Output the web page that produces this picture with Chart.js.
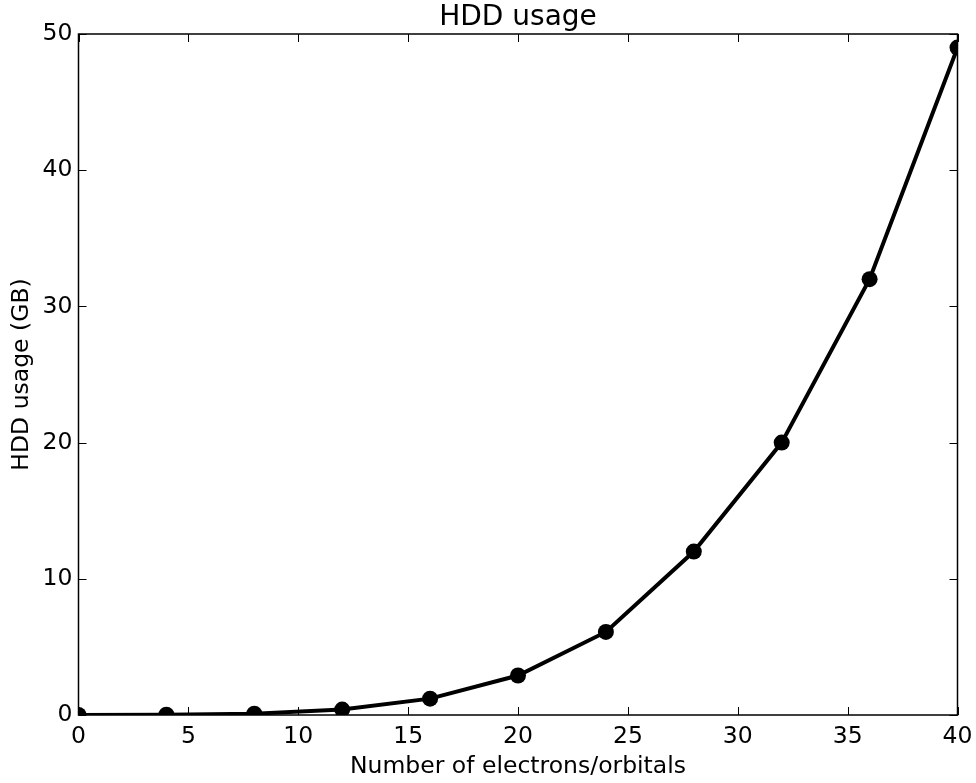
<!DOCTYPE html>
<html>
<head>
<meta charset="utf-8">
<script src="https://cdn.jsdelivr.net/npm/chart.js@4.4.1/dist/chart.umd.min.js"></script>
<style>
html,body{margin:0;padding:0;background:#fff;}
#wrap{width:976px;height:783px;position:relative;}
</style>
</head>
<body>
<div id="wrap"><canvas id="c" width="976" height="783"></canvas></div>
<script>
const electrons = [0, 4, 8, 12, 16, 20, 24, 28, 32, 36, 40];
const hddUsageGB = [0, 0.02, 0.1, 0.4, 1.2, 2.9, 6.1, 12, 20, 32, 49];
const xTicks = [0, 5, 10, 15, 20, 25, 30, 35, 40];
const yTicks = [0, 10, 20, 30, 40, 50];

const FONT = "'DejaVu Sans', sans-serif";

const frame = {
  id: 'frame',
  afterDatasetsDraw(chart) {
    const {ctx, chartArea: a, scales: {x, y}} = chart;
    ctx.save();
    ctx.strokeStyle = '#000';
    ctx.lineWidth = 1;
    const L = 8;
    x.ticks.forEach(t => {
      const px = Math.round(x.getPixelForValue(t.value)) + 0.5;
      ctx.beginPath();
      ctx.moveTo(px, a.bottom); ctx.lineTo(px, a.bottom - L);
      ctx.moveTo(px, a.top); ctx.lineTo(px, a.top + L);
      ctx.stroke();
    });
    y.ticks.forEach(t => {
      const py = Math.round(y.getPixelForValue(t.value)) + 0.5;
      ctx.beginPath();
      ctx.moveTo(a.left, py); ctx.lineTo(a.left + L, py);
      ctx.moveTo(a.right, py); ctx.lineTo(a.right - L, py);
      ctx.stroke();
    });
    ctx.lineWidth = 1.5;
    ctx.strokeRect(a.left, a.top, a.right - a.left, a.bottom - a.top);
    ctx.restore();
  }
};

new Chart(document.getElementById('c'), {
  type: 'line',
  data: {
    datasets: [{
      data: electrons.map((v, i) => ({x: v, y: hddUsageGB[i]})),
      borderColor: '#000',
      backgroundColor: '#000',
      borderWidth: 4,
      pointRadius: 8,
      pointHoverRadius: 8,
      pointBorderWidth: 0,
      pointBackgroundColor: '#000',
      tension: 0,
      clip: 0
    }]
  },
  options: {
    responsive: false,
    animation: false,
    events: [],
    layout: {padding: {left: 0, right: 18.5, top: 0, bottom: 0}},
    plugins: {
      legend: {display: false},
      tooltip: {enabled: false},
      title: {display: false}
    },
    scales: {
      x: {
        type: 'linear',
        min: 0, max: 40,
        afterFit(s) { s.height = 68; s.paddingLeft = 0; s.paddingRight = 0; },
        afterBuildTicks(s) { s.ticks = xTicks.map(v => ({value: v})); },
        grid: {display: false, drawTicks: false},
        border: {display: false},
        ticks: {color: '#000', font: {family: FONT, size: 23.5}, padding: 8, maxRotation: 0, autoSkip: false},
        title: {display: true, text: 'Number of electrons/orbitals', color: '#000',
                font: {family: FONT, size: 23.5, lineHeight: 1.2}, padding: {top: 0, bottom: 2}}
      },
      x2: {
        type: 'linear',
        position: 'top',
        min: 0, max: 40,
        afterFit(s) { s.height = 34; s.paddingLeft = 0; s.paddingRight = 0; },
        grid: {display: false, drawTicks: false},
        border: {display: false},
        ticks: {display: false},
        title: {display: true, text: 'HDD usage', color: '#000',
                font: {family: FONT, size: 28, lineHeight: 1.2}, padding: {top: 0.5, bottom: 0}}
      },
      y: {
        type: 'linear',
        min: 0, max: 50,
        afterFit(s) { s.width = 78.5; s.paddingTop = 0; s.paddingBottom = 0; },
        afterBuildTicks(s) { s.ticks = yTicks.map(v => ({value: v})); },
        grid: {display: false, drawTicks: false},
        border: {display: false},
        ticks: {color: '#000', font: {family: FONT, size: 23.5}, padding: 6},
        title: {display: true, text: 'HDD usage (GB)', color: '#000',
                font: {family: FONT, size: 23.5, lineHeight: 1.2}, padding: {top: 8, bottom: 0}}
      }
    }
  },
  plugins: [frame]
});
</script>
</body>
</html>
